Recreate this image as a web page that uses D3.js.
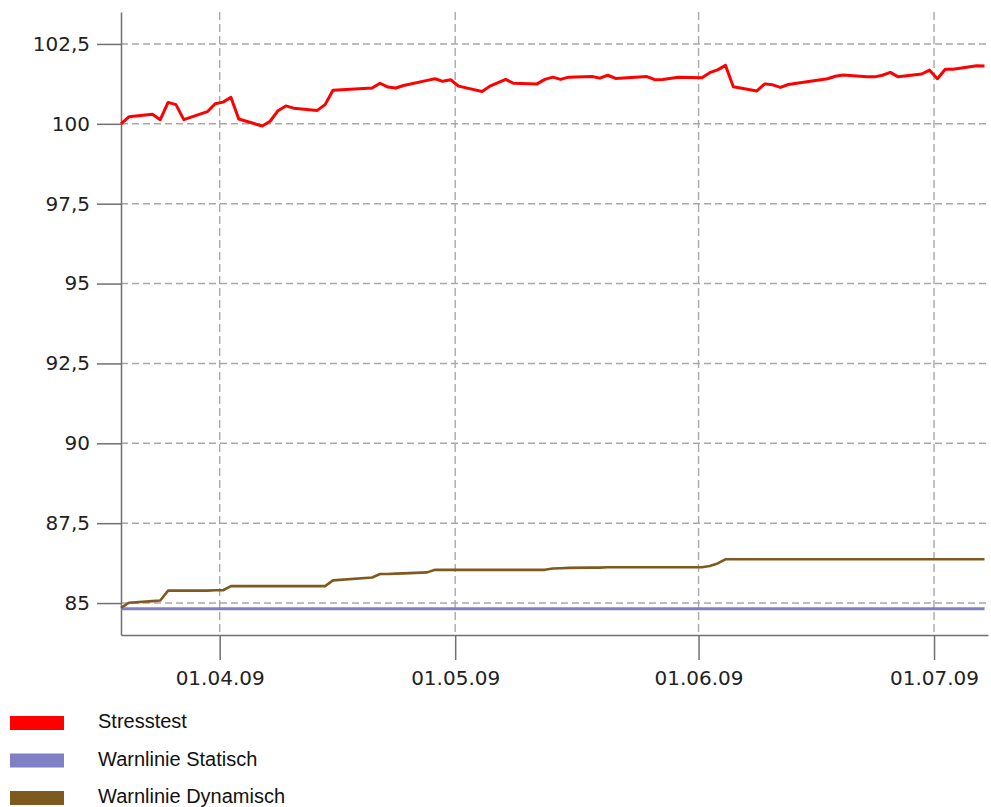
<!DOCTYPE html>
<html>
<head>
<meta charset="utf-8">
<script src="https://cdn.jsdelivr.net/npm/d3@7"></script>
<style>
    body { margin: 0; background: #fff; }
    #visualization svg { display: block; }
</style>
</head>
<body>
<div id="visualization"></div>
<script>
// Business days with a value (sampled around 10:20)
const dates = [
    '2009-03-19', '2009-03-20', '2009-03-23', '2009-03-24', '2009-03-25', '2009-03-26', '2009-03-27', '2009-03-30', '2009-03-31',
    '2009-04-01', '2009-04-02', '2009-04-03', '2009-04-06', '2009-04-07', '2009-04-08', '2009-04-09', '2009-04-10', '2009-04-13',
    '2009-04-14', '2009-04-15', '2009-04-20', '2009-04-21', '2009-04-22', '2009-04-23', '2009-04-24', '2009-04-27', '2009-04-28',
    '2009-04-29', '2009-04-30',
    '2009-05-01', '2009-05-04', '2009-05-05', '2009-05-07', '2009-05-08', '2009-05-11', '2009-05-12', '2009-05-13', '2009-05-14',
    '2009-05-15', '2009-05-18', '2009-05-19', '2009-05-20', '2009-05-21', '2009-05-25', '2009-05-26', '2009-05-27', '2009-05-29',
    '2009-06-01', '2009-06-02', '2009-06-03', '2009-06-04', '2009-06-05', '2009-06-08', '2009-06-09', '2009-06-10', '2009-06-11',
    '2009-06-12', '2009-06-17', '2009-06-18', '2009-06-19', '2009-06-22', '2009-06-23', '2009-06-24', '2009-06-25', '2009-06-26',
    '2009-06-29', '2009-06-30',
    '2009-07-01', '2009-07-02', '2009-07-03', '2009-07-06', '2009-07-07'
];
const sampleTime = '10:20';

const stresstest = [
    100.00, 100.22, 100.30, 100.13, 100.67, 100.60, 100.13, 100.38, 100.63,
    100.68, 100.83, 100.15, 99.93, 100.08, 100.41, 100.56, 100.49, 100.42,
    100.60, 101.05, 101.12, 101.27, 101.15, 101.12, 101.20, 101.36, 101.41,
    101.33, 101.38,
    101.18, 101.01, 101.18, 101.39, 101.27, 101.25, 101.39, 101.46, 101.39,
    101.46, 101.48, 101.43, 101.52, 101.42, 101.48, 101.38, 101.39, 101.46,
    101.44, 101.60, 101.69, 101.83, 101.16, 101.03, 101.25, 101.22, 101.14,
    101.23, 101.41, 101.49, 101.53, 101.47, 101.47, 101.52, 101.61, 101.47,
    101.56, 101.68,
    101.41, 101.71, 101.71, 101.82, 101.81
];

const warnDynamisch = [
    84.85, 85.01, 85.06, 85.08, 85.39, 85.39, 85.39, 85.39, 85.40,
    85.40, 85.53, 85.53, 85.53, 85.53, 85.53, 85.53, 85.53, 85.53,
    85.53, 85.71, 85.80, 85.91, 85.91, 85.92, 85.93, 85.96, 86.04,
    86.04, 86.04,
    86.04, 86.04, 86.04, 86.04, 86.04, 86.04, 86.04, 86.08, 86.09,
    86.10, 86.11, 86.11, 86.12, 86.12, 86.12, 86.12, 86.12, 86.12,
    86.12, 86.16, 86.24, 86.37, 86.37, 86.37, 86.37, 86.37, 86.37,
    86.37, 86.37, 86.37, 86.37, 86.37, 86.37, 86.37, 86.37, 86.37,
    86.37, 86.37,
    86.37, 86.37, 86.37, 86.37, 86.37
];

const staticDates = ['2009-03-19', '2009-07-07'];
const warnStatisch = [84.82, 84.82];

const yTicks = [85, 87.5, 90, 92.5, 95, 97.5, 100, 102.5];
const xTicks = ['2009-04-01', '2009-05-01', '2009-06-01', '2009-07-01'];
const xDomain = ['2009-03-19 10:20', '2009-07-07 21:00'];
const yDomain = [84, 103.5];

const seriesNames = ['Stresstest', 'Warnlinie Statisch', 'Warnlinie Dynamisch'];
const seriesColors = ['#ff0000', '#8080c4', '#7f5a1f'];

document.addEventListener('DOMContentLoaded', () => {
    drawChart();
});

function drawChart() {
    const parseTime = d3.timeParse('%Y-%m-%d %H:%M');
    const parseDay = d3.timeParse('%Y-%m-%d');

    const width = 991, height = 807;
    const left = 121, right = 988, top = 12, bottom = 635;

    const svg = d3.select('#visualization')
        .append('svg')
        .attr('width', width)
        .attr('height', height);

    const x = d3.scaleTime()
        .domain(xDomain.map(parseTime))
        .range([left, right]);

    const y = d3.scaleLinear()
        .domain(yDomain)
        .range([bottom, top]);

    // Grid lines
    const grid = svg.append('g')
        .attr('stroke', '#a8a8a8')
        .attr('stroke-width', 1.4);

    grid.selectAll('line.h')
        .data(yTicks)
        .enter()
        .append('line')
        .attr('class', 'h')
        .attr('x1', left)
        .attr('x2', right)
        .attr('y1', d => y(d))
        .attr('y2', d => y(d))
        .attr('stroke-dasharray', '7,4');

    grid.selectAll('line.v')
        .data(xTicks.map(parseDay))
        .enter()
        .append('line')
        .attr('class', 'v')
        .attr('x1', d => x(d))
        .attr('x2', d => x(d))
        .attr('y1', top)
        .attr('y2', bottom)
        .attr('stroke-dasharray', '8,4');

    // Axes
    const fmtComma = d => String(d).replace('.', ',');

    const yAxis = svg.append('g')
        .attr('transform', `translate(${left},0)`)
        .call(d3.axisLeft(y)
            .tickValues(yTicks)
            .tickFormat(fmtComma)
            .tickSize(24)
            .tickPadding(7)
            .tickSizeOuter(0));

    const xAxis = svg.append('g')
        .attr('transform', `translate(0,${bottom})`)
        .call(d3.axisBottom(x)
            .tickValues(xTicks.map(parseDay))
            .tickFormat(d3.timeFormat('%d.%m.%y'))
            .tickSize(25)
            .tickPadding(11)
            .tickSizeOuter(0));

    [xAxis, yAxis].forEach(ax => {
        ax.select('.domain').attr('stroke', '#707070').attr('stroke-width', 1.5);
        ax.selectAll('.tick line').attr('stroke', '#707070').attr('stroke-width', 1.5);
        ax.selectAll('.tick text')
            .attr('fill', '#222')
            .style('font-family', '"DejaVu Sans", Verdana, sans-serif')
            .style('font-size', '20px');
    });

    // Lines
    const line = d3.line()
        .x(d => x(d.date))
        .y(d => y(d.value));

    const toPoints = (ds, vs) => ds.map((d, i) => ({ date: parseTime(d + ' ' + sampleTime), value: vs[i] }));

    const series = [
        { name: seriesNames[1], color: seriesColors[1], points: toPoints(staticDates, warnStatisch), w: 3 },
        { name: seriesNames[2], color: seriesColors[2], points: toPoints(dates, warnDynamisch), w: 2.6 },
        { name: seriesNames[0], color: seriesColors[0], points: toPoints(dates, stresstest), w: 3 }
    ];

    svg.selectAll('path.series')
        .data(series)
        .enter()
        .append('path')
        .attr('class', 'series')
        .attr('fill', 'none')
        .attr('stroke', d => d.color)
        .attr('stroke-width', d => d.w)
        .attr('stroke-linejoin', 'round')
        .attr('d', d => line(d.points));

    // Legend
    const legend = svg.append('g');
    const rows = legend.selectAll('g')
        .data(seriesNames)
        .enter()
        .append('g')
        .attr('transform', (d, i) => `translate(10,${716 + i * 37.5})`);

    rows.append('rect')
        .attr('width', 54)
        .attr('height', 14)
        .attr('fill', (d, i) => seriesColors[i]);

    rows.append('text')
        .attr('x', 88)
        .attr('y', 12)
        .attr('fill', '#111')
        .style('font-family', '"Liberation Sans", Arial, sans-serif')
        .style('font-size', '20px')
        .text(d => d);
}
</script>
</body>
</html>
